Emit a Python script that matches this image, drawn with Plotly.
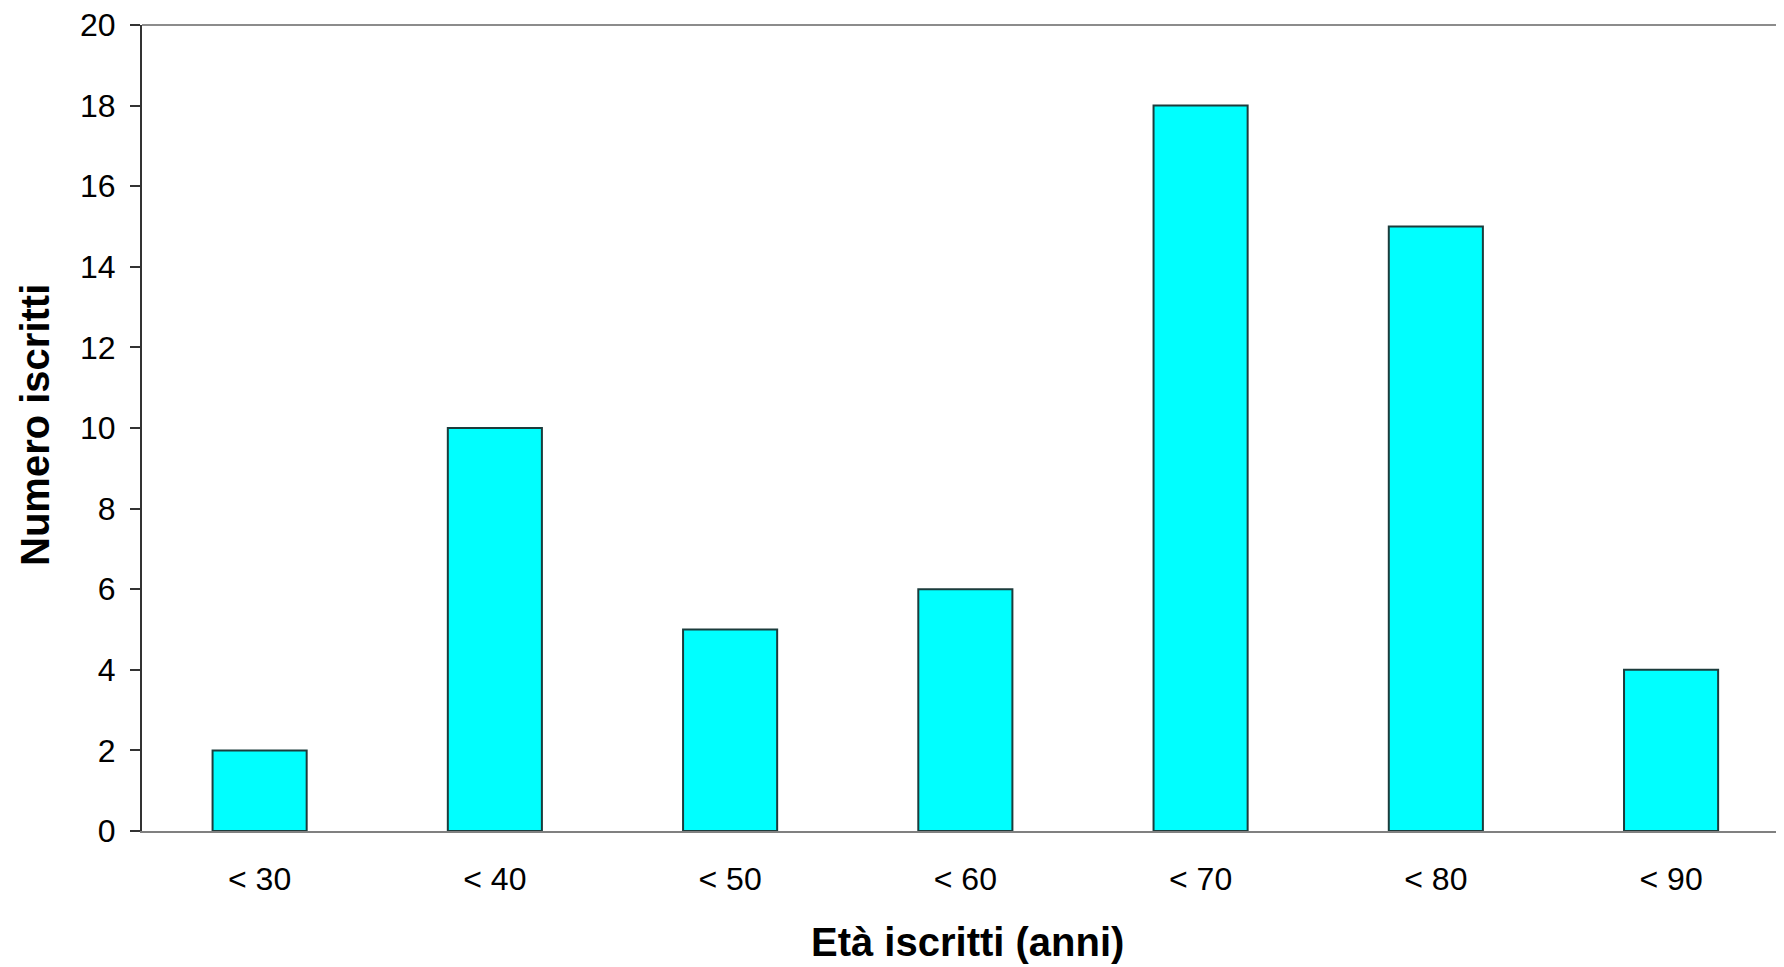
import plotly.graph_objects as go

categories = ["< 30", "< 40", "< 50", "< 60", "< 70", "< 80", "< 90"]
values = [2, 10, 5, 6, 18, 15, 4]
y_ticks = [0, 2, 4, 6, 8, 10, 12, 14, 16, 18, 20]
x_title = "Età iscritti (anni)"
y_title = "Numero iscritti"

OFF = 8  # page body margin
W, H = 1784 - OFF, 967 - OFF
L, R, T, B = 142 - OFF, 0, 25 - OFF, 136
pw, ph = W - L - R, H - T - B

fig = go.Figure(go.Bar(
    x=list(range(len(categories))),
    y=values,
    marker=dict(color="#00FFFF", line=dict(color="#1c3c3c", width=2)),
    width=0.4,
))

font = "Liberation Sans, Arial, sans-serif"

fig.update_layout(
    width=W, height=H,
    margin=dict(l=L, r=R, t=T, b=B),
    paper_bgcolor="white", plot_bgcolor="white",
    showlegend=False,
    font=dict(family=font, color="black"),
    xaxis=dict(
        range=[-0.5, 6.48],
        tickmode="array", tickvals=list(range(len(categories))), ticktext=categories,
        showgrid=False, zeroline=False,
        showline=True, linecolor="#808080", linewidth=2,
        ticks="", tickfont=dict(size=32, family=font, color="black"),
        ticklabelstandoff=19,
    ),
    yaxis=dict(
        range=[0, 20],
        tickmode="array", tickvals=y_ticks,
        showgrid=False, zeroline=False,
        showline=True, linecolor="#333333", linewidth=2,
        ticks="outside", ticklen=10, tickwidth=2, tickcolor="#333333",
        tickfont=dict(size=32, family=font, color="black"),
        ticklabelstandoff=8,
        ticklabeloverflow="allow",
    ),
    shapes=[dict(type="line", xref="paper", yref="paper", x0=0, x1=1, y0=1, y1=1,
                 line=dict(color="#8c8c8c", width=2))],
    annotations=[
        dict(text=x_title, xref="paper", yref="paper",
             x=(968 - 142) / pw, y=(831 - 942) / ph,
             xanchor="center", yanchor="middle", showarrow=False,
             font=dict(size=40, family=font, color="black", weight="bold")),
        dict(text=y_title, xref="paper", yref="paper",
             x=(35 - 142) / pw, y=(831 - 425) / ph, textangle=-90,
             xanchor="center", yanchor="middle", showarrow=False,
             font=dict(size=40, family=font, color="black", weight="bold")),
    ],
)

fig.write_html("out.html")
